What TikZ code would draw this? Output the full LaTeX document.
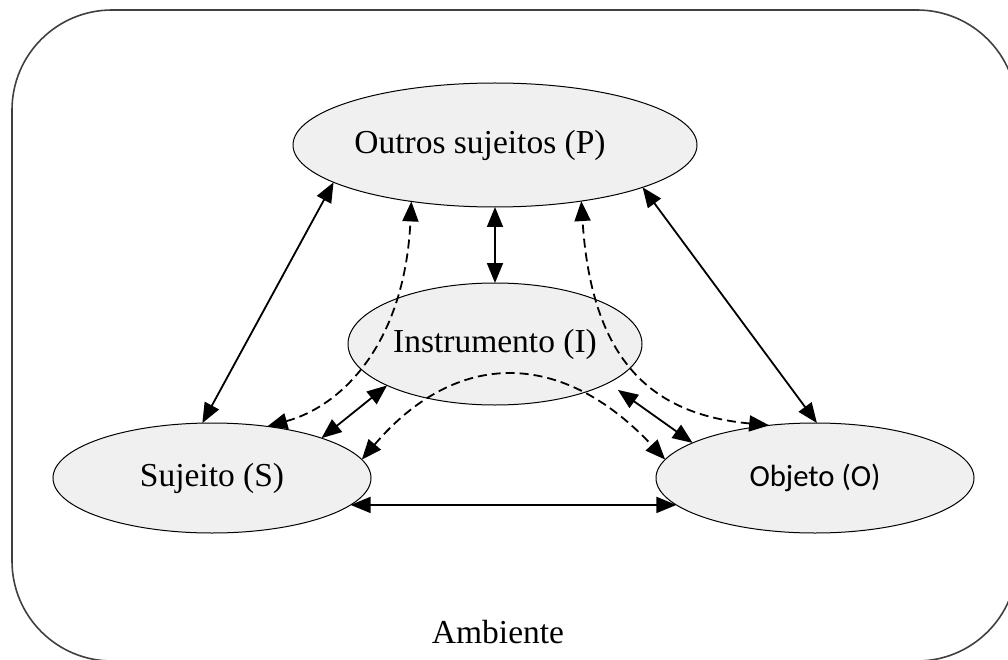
\documentclass[tikz,border=0pt]{standalone}
\usepackage{fontspec}
\setmainfont{Liberation Serif}
\newfontfamily\objfont{Carlito}
\usetikzlibrary{shapes.geometric,arrows.meta}
\definecolor{nodefill}{RGB}{240,240,240}
\definecolor{framegray}{RGB}{64,64,64}
\begin{document}
\begin{tikzpicture}[x=1pt,y=-1pt,
  agent/.style={ellipse,draw=black,line width=1pt,fill=nodefill,
    inner sep=0pt,outer sep=0pt,font=\fontsize{33.5}{40}\selectfont},
  link/.style={line width=1.8pt,
    {Triangle[length=20pt,width=16pt]}-{Triangle[length=20pt,width=16pt]}},
  mediated/.style={link,dash pattern=on 9pt off 5pt}]
\useasboundingbox (0,0) rectangle (1008,660);

% environment frame
\draw[framegray,line width=1.6pt,rounded corners=100pt] (12,10) rectangle (1017,661);
\node[font=\fontsize{33.5}{40}\selectfont] (amb) at (498,632) {Ambiente};

% actors
\node[agent,minimum width=404pt,minimum height=124pt,
  label={[font=\fontsize{33.5}{40}\selectfont,xshift=-15pt]center:Outros sujeitos (P)}]
  (P) at (495,145) {};
\node[agent,minimum width=294pt,minimum height=122pt] (I) at (495,344) {Instrumento (I)};
\node[agent,minimum width=318pt,minimum height=110pt] (S) at (212,478) {Sujeito (S)};
\node[agent,minimum width=318pt,minimum height=110pt,
  font=\objfont\fontsize{30.7}{36}\selectfont] (O) at (815,478) {Objeto (O)};

% direct relations
\draw[link] (S.100) -- (P.193);
\draw[link] (O.88) -- (P.344);
\draw[link] (P.south) -- (I.north);
\draw[link] (S.349) -- (O.191);
\draw[link] (S.20) -- (I.201);
\draw[link,shorten >=12pt] (O.164) -- (I.341);

% relations mediated by the instrument
\draw[mediated] (S.43) .. controls (345,405) and (405,340) .. (P.214);
\draw[mediated] (O.131) .. controls (660,415) and (592,370) .. (P.327);
\draw[mediated] (S.7) .. controls (456,349) and (562,349) .. (O.173);
\end{tikzpicture}
\end{document}
